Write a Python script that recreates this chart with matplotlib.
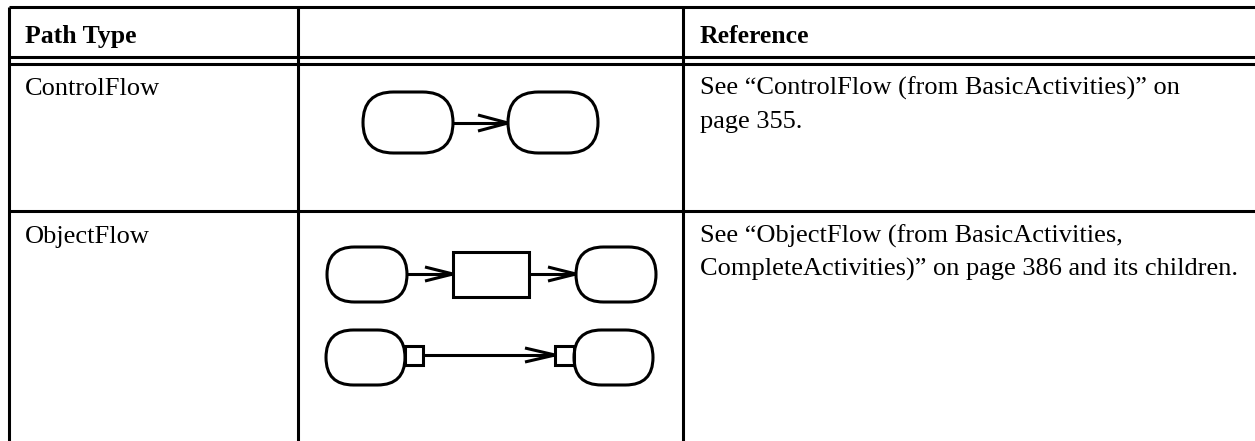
import matplotlib
matplotlib.use("Agg")
import matplotlib.pyplot as plt
from matplotlib.patches import FancyBboxPatch, Rectangle

# ---- table content ----
headers = ["Path Type", "", "Reference"]
path_types = ["ControlFlow", "ObjectFlow"]
references = [
    "See \u201cControlFlow (from BasicActivities)\u201d on\npage 355.",
    "See \u201cObjectFlow (from BasicActivities,\nCompleteActivities)\u201d on page 386 and its children.",
]

W, H = 1255, 441
fig = plt.figure(figsize=(W / 100, H / 100), dpi=100)
ax = fig.add_axes([0, 0, 1, 1])
ax.set_xlim(0, W)
ax.set_ylim(H, 0)
ax.axis("off")

LW = 2.2
FONT = "Liberation Serif"
FS_HEAD = 18.5
FS = 19

# ---- table grid ----
col_x = [9, 298, 683]
top_y = 7
header_lines = [57, 64]
row_sep = [211]
ax.plot([col_x[0], W], [top_y, top_y], color="black", lw=LW, solid_capstyle="butt")
for y in header_lines + row_sep:
    ax.plot([col_x[0], W], [y, y], color="black", lw=LW, solid_capstyle="butt")
for x in col_x:
    ax.plot([x, x], [top_y, H], color="black", lw=LW, solid_capstyle="butt")

# ---- text ----
text_x = [25, None, 700]
ax.text(text_x[0], 43, headers[0], fontfamily=FONT, fontweight="bold", fontsize=FS_HEAD, va="baseline", ha="left")
ax.text(text_x[2], 43, headers[2], fontfamily=FONT, fontweight="bold", fontsize=FS_HEAD, va="baseline", ha="left")

row_baselines = [95, 243]
line_step = 33
for i, (name, ref) in enumerate(zip(path_types, references)):
    ax.text(text_x[0], row_baselines[i], name, fontfamily=FONT, fontsize=FS, va="baseline", ha="left")
    for j, line in enumerate(ref.split("\n")):
        ax.text(text_x[2], row_baselines[i] + j * line_step, line, fontfamily=FONT, fontsize=FS,
                va="baseline", ha="left")


# ---- diagram helpers ----
def stadium(x0, x1, y0, y1):
    h = y1 - y0
    p = FancyBboxPatch((x0, y0), x1 - x0, h, boxstyle=f"round,pad=0,rounding_size={h / 2}",
                       fill=False, ec="black", lw=LW)
    ax.add_patch(p)


def rect(x0, x1, y0, y1):
    ax.add_patch(Rectangle((x0, y0), x1 - x0, y1 - y0, fill=False, ec="black", lw=LW))


def arrow(x0, x1, y, head=30, half=8):
    ax.plot([x0, x1], [y, y], color="black", lw=LW, solid_capstyle="butt")
    ax.plot([x1 - head, x1, x1 - head], [y - half, y, y + half], color="black", lw=LW,
            solid_joinstyle="miter", solid_capstyle="butt")


# ControlFlow diagram
stadium(363, 453, 92, 153)
stadium(508, 598, 92, 153)
arrow(453, 508, 123)

# ObjectFlow diagram, row 1
stadium(327, 407, 247, 302)
rect(453, 529, 252, 297)
stadium(576, 656, 247, 302)
arrow(407, 453, 274, head=28, half=7)
arrow(529, 576, 274, head=28, half=7)

# ObjectFlow diagram, row 2 (pins)
stadium(326, 405, 330, 385)
rect(405, 423, 346, 365)
rect(555, 574, 346, 365)
stadium(574, 653, 330, 385)
arrow(423, 555, 355, head=30, half=7)

fig.savefig("out.png", dpi=100)
